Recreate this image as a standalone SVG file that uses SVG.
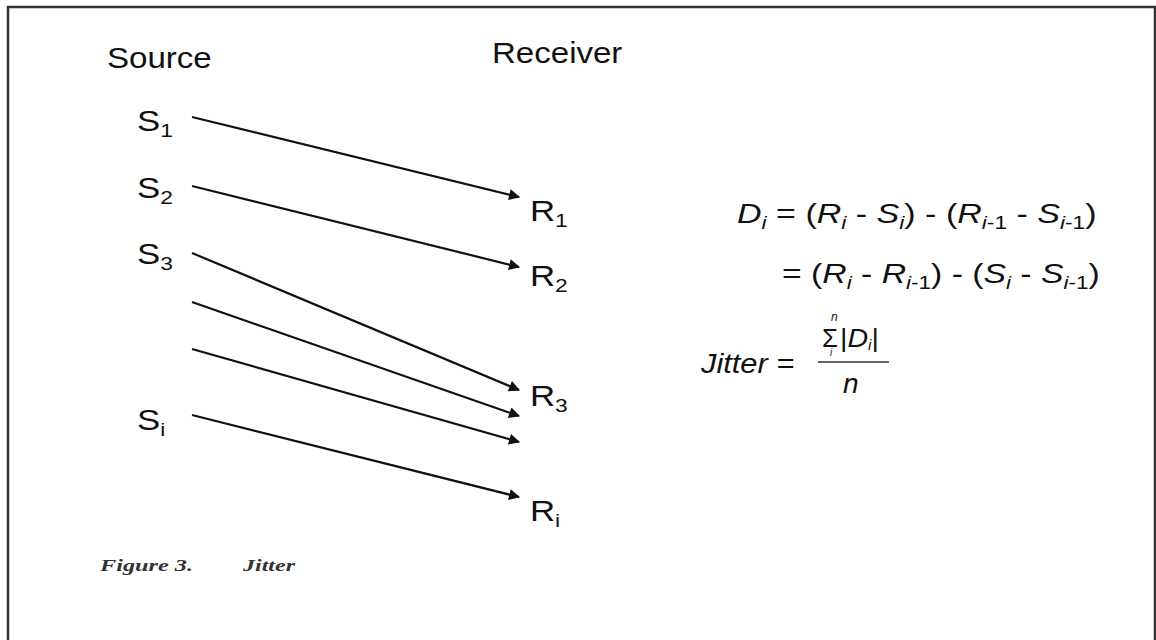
<svg xmlns="http://www.w3.org/2000/svg" width="1156" height="640" viewBox="0 0 1156 640">
<defs>
<style>
.t{font-family:"Liberation Sans",Arial,sans-serif;font-size:29px;fill:#111}
.s{font-size:19px}
.m{font-family:"Liberation Sans",Arial,sans-serif;font-size:27px;fill:#111}
.i{font-style:italic}
.sub{font-size:18px}
.cap{font-family:"Liberation Serif","Times New Roman",serif;font-style:italic;font-weight:bold;font-size:17px;fill:#333}
.c{stroke:#111;stroke-width:2.2;fill:none;marker-end:url(#ah)}
</style>
<marker id="ah" viewBox="0 0 10 10" refX="9" refY="5" markerWidth="6" markerHeight="5" orient="auto" markerUnits="strokeWidth">
<path d="M0,0 L10,5 L0,10 z" fill="#111"/>
</marker>
</defs>
<rect x="8" y="7" width="1147" height="650" fill="#fff" stroke="#333" stroke-width="2.5"/>
<g id="headers">
<text class="t" transform="translate(107,68) scale(1.14,1)">Source</text>
<text class="t" transform="translate(492,63) scale(1.14,1)">Receiver</text>
</g>
<g id="S1"><text class="t" transform="translate(137,131) scale(1.2,1)">S<tspan class="s" dy="6">1</tspan></text></g>
<g id="S2"><text class="t" transform="translate(137,198) scale(1.2,1)">S<tspan class="s" dy="6">2</tspan></text></g>
<g id="S3"><text class="t" transform="translate(137,264) scale(1.2,1)">S<tspan class="s" dy="6">3</tspan></text></g>
<g id="Si"><text class="t" transform="translate(137,430) scale(1.2,1)">S<tspan class="s" dy="6">i</tspan></text></g>
<g id="R1"><text class="t" transform="translate(530,221) scale(1.2,1)">R<tspan class="s" dy="6">1</tspan></text></g>
<g id="R2"><text class="t" transform="translate(530,286) scale(1.2,1)">R<tspan class="s" dy="6">2</tspan></text></g>
<g id="R3"><text class="t" transform="translate(530,406) scale(1.2,1)">R<tspan class="s" dy="6">3</tspan></text></g>
<g id="Ri"><text class="t" transform="translate(530,521) scale(1.2,1)">R<tspan class="s" dy="6">i</tspan></text></g>
<g id="connectors">
<line class="c" x1="192" y1="117" x2="519" y2="197"/>
<line class="c" x1="192" y1="186" x2="519" y2="267"/>
<line class="c" x1="192" y1="253" x2="519" y2="390"/>
<line class="c" x1="192" y1="302" x2="519" y2="416"/>
<line class="c" x1="192" y1="349" x2="519" y2="442"/>
<line class="c" x1="192" y1="415" x2="519" y2="497"/>
</g>
<g id="equation">
<text class="m" transform="translate(737,223) scale(1.26,1)"><tspan class="i">D</tspan><tspan class="i sub" dy="6">i</tspan><tspan dy="-6"> = (</tspan><tspan class="i">R</tspan><tspan class="i sub" dy="6">i</tspan><tspan dy="-6"> - </tspan><tspan class="i">S</tspan><tspan class="i sub" dy="6">i</tspan><tspan dy="-6">) - (</tspan><tspan class="i">R</tspan><tspan class="i sub" dy="6">i</tspan><tspan class="sub">-1</tspan><tspan dy="-6"> - </tspan><tspan class="i">S</tspan><tspan class="i sub" dy="6">i</tspan><tspan class="sub">-1</tspan><tspan dy="-6">)</tspan></text>
<text class="m" transform="translate(782,283) scale(1.25,1)">= (<tspan class="i">R</tspan><tspan class="i sub" dy="6">i</tspan><tspan dy="-6"> - </tspan><tspan class="i">R</tspan><tspan class="i sub" dy="6">i</tspan><tspan class="sub">-1</tspan><tspan dy="-6">) - (</tspan><tspan class="i">S</tspan><tspan class="i sub" dy="6">i</tspan><tspan dy="-6"> - </tspan><tspan class="i">S</tspan><tspan class="i sub" dy="6">i</tspan><tspan class="sub">-1</tspan><tspan dy="-6">)</tspan></text>
<text class="m i" transform="translate(701,373) scale(1.1,1)" style="font-size:28px">Jitter =</text>
<text class="m i" x="831" y="321" style="font-size:12px">n</text>
<text class="m" x="822" y="347" style="font-size:26px">Σ</text>
<text class="m i" x="830" y="356" style="font-size:10px">i</text>
<text class="m" transform="translate(840,347) scale(1.1,1)" style="font-size:26px">|<tspan class="i">D</tspan><tspan class="i" style="font-size:14px" dy="3">i</tspan><tspan dy="-3">|</tspan></text>
<line x1="818" y1="362" x2="889" y2="362" stroke="#666" stroke-width="2"/>
<text class="m i" x="843" y="393" style="font-size:28px">n</text>
</g>
<g id="caption">
<text class="cap" x="100" y="571" textLength="93" lengthAdjust="spacingAndGlyphs">Figure 3.</text>
<text class="cap" x="243" y="571" textLength="52" lengthAdjust="spacingAndGlyphs">Jitter</text>
</g>
</svg>
